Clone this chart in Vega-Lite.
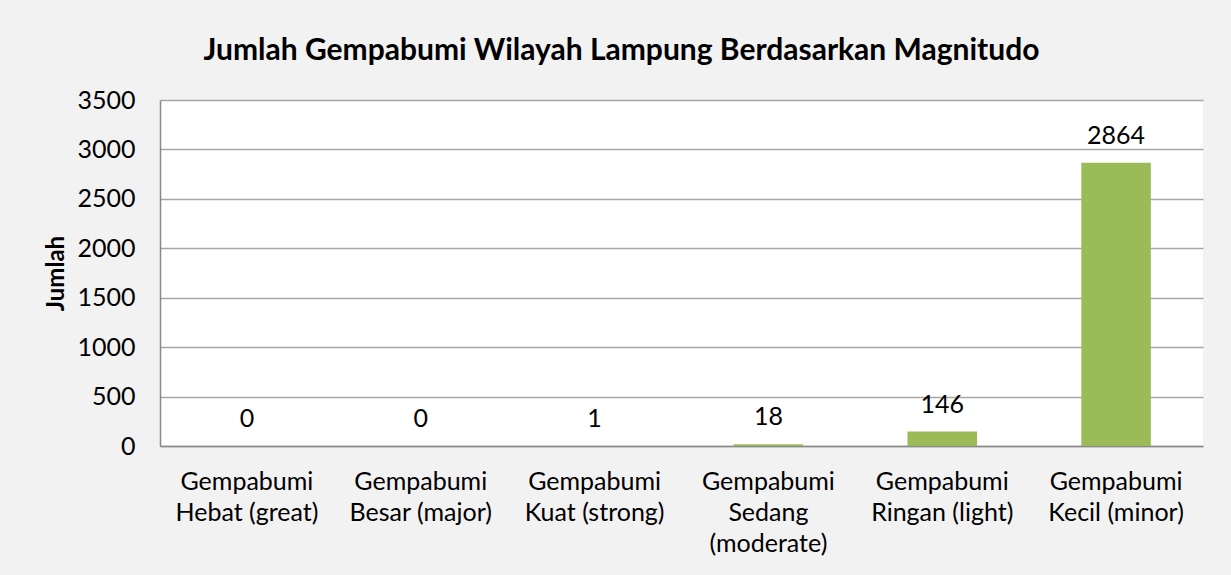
{
  "$schema": "https://vega.github.io/schema/vega-lite/v6.json",
  "width": 1043,
  "height": 346,
  "autosize": {"type": "none"},
  "padding": {"left": 160, "top": 100, "right": 28, "bottom": 129},
  "background": "#F2F2F2",
  "title": {
    "text": "Jumlah Gempabumi Wilayah Lampung Berdasarkan Magnitudo",
    "font": "Lato",
    "fontSize": 30,
    "fontWeight": "bold",
    "color": "#000000",
    "anchor": "middle",
    "dx": -60,
    "offset": 22
  },
  "data": {
    "values": [
      {"kategori": "Gempabumi Hebat (great)", "jumlah": 0},
      {"kategori": "Gempabumi Besar (major)", "jumlah": 0},
      {"kategori": "Gempabumi Kuat (strong)", "jumlah": 1},
      {"kategori": "Gempabumi Sedang (moderate)", "jumlah": 18},
      {"kategori": "Gempabumi Ringan (light)", "jumlah": 146},
      {"kategori": "Gempabumi Kecil (minor)", "jumlah": 2864}
    ]
  },
  "config": {
    "view": {"fill": "white", "stroke": null},
    "font": "Lato"
  },
  "encoding": {
    "x": {
      "field": "kategori",
      "type": "nominal",
      "sort": null,
      "scale": {"paddingInner": 0.6, "paddingOuter": 0.3},
      "axis": {
        "title": null,
        "labelAngle": 0,
        "labelFont": "Lato",
        "labelFontSize": 25,
        "labelColor": "#000000",
        "labelPadding": 23,
        "labelLineHeight": 31,
        "labelBaseline": "top",
        "ticks": false,
        "domainColor": "#898989",
        "domainWidth": 1.5,
        "labelExpr": "datum.label == 'Gempabumi Sedang (moderate)' ? ['Gempabumi', 'Sedang', '(moderate)'] : ['Gempabumi', replace(datum.label, 'Gempabumi ', '')]"
      }
    },
    "y": {
      "field": "jumlah",
      "type": "quantitative",
      "scale": {"domain": [0, 3500], "nice": false},
      "axis": {
        "title": "Jumlah",
        "titleFont": "Lato",
        "titleFontSize": 24,
        "titleFontWeight": "bold",
        "titleColor": "#000000",
        "titlePadding": 8,
        "format": "d",
        "values": [0, 500, 1000, 1500, 2000, 2500, 3000, 3500],
        "labelFont": "Lato",
        "labelFontSize": 25,
        "labelColor": "#000000",
        "labelPadding": 25,
        "ticks": false,
        "grid": true,
        "gridColor": "#A6A6A6",
        "gridWidth": 1.5,
        "domainColor": "#898989",
        "domainWidth": 1.5
      }
    }
  },
  "layer": [
    {"mark": {"type": "bar", "color": "#9BBB59"}},
    {
      "mark": {"type": "text", "dy": -27, "baseline": "middle", "font": "Lato", "fontSize": 25, "color": "#000000"},
      "encoding": {"text": {"field": "jumlah", "type": "quantitative"}}
    }
  ]
}
